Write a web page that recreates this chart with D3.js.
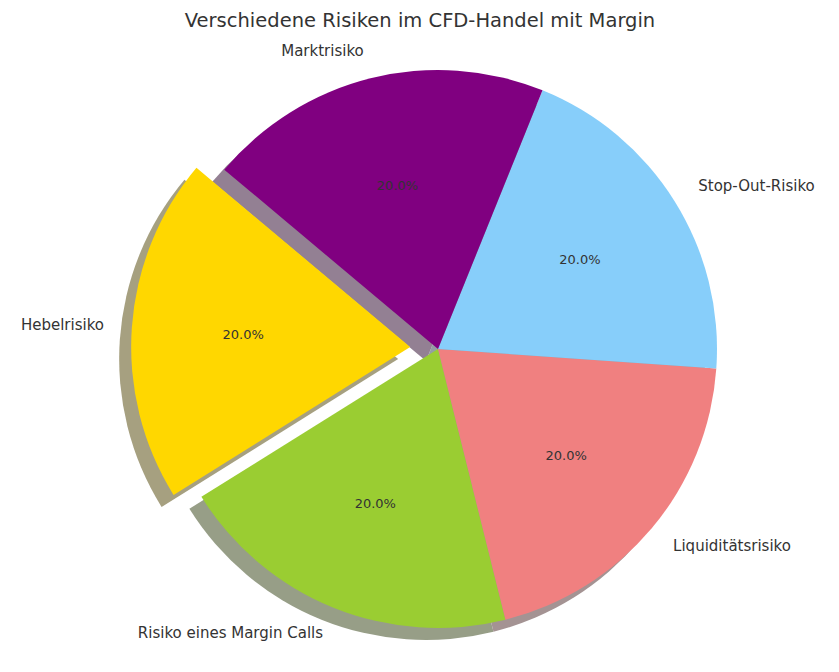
<!DOCTYPE html>
<html><head><meta charset="utf-8">
<script src="https://cdn.jsdelivr.net/npm/d3@7"></script>
<style>body{margin:0;background:#fff;font-family:"DejaVu Sans",sans-serif}</style>
</head><body>
<svg id="c" width="839" height="672"></svg>
<script>
const labels = ["Hebelrisiko", "Risiko eines Margin Calls", "Liquiditätsrisiko", "Stop-Out-Risiko", "Marktrisiko"];
const values = [20, 20, 20, 20, 20];
const colors = ["#ffd700", "#9acd32", "#f08080", "#87cefa", "#800080"];
const explode = [0.1, 0, 0, 0, 0];
const startAngle = 140;

const svg = d3.select("#c");
const cx = 438, cy = 349, r = 279;
const total = d3.sum(values);
const shadowOff = [-12, 12];

// matplotlib-style angles: counterclockwise from +x, in degrees
let a = startAngle;
const slices = values.map((v, i) => {
  const s = { i, a0: a, a1: a + 360 * v / total };
  a = s.a1;
  s.mid = (s.a0 + s.a1) / 2;
  return s;
});
const toD3 = (deg) => (90 - deg) * Math.PI / 180;
const arc = d3.arc().innerRadius(0).outerRadius(r);
const rad = (deg) => deg * Math.PI / 180;

function offset(s) {
  const e = explode[s.i] * r;
  return [Math.cos(rad(s.mid)) * e, -Math.sin(rad(s.mid)) * e];
}
function path(s) {
  return arc({ startAngle: toD3(s.a1), endAngle: toD3(s.a0) });
}
function shade(c) {
  const k = d3.rgb(c);
  return d3.rgb(255 - (255 - k.r * 0.3) * 0.5, 255 - (255 - k.g * 0.3) * 0.5, 255 - (255 - k.b * 0.3) * 0.5);
}

slices.forEach((s) => {
  const [ox, oy] = offset(s);
  svg.append("path").attr("d", path(s))
    .attr("transform", `translate(${cx + ox + shadowOff[0]},${cy + oy + shadowOff[1]})`)
    .attr("fill", shade(colors[s.i]));
});
slices.forEach((s) => {
  const [ox, oy] = offset(s);
  svg.append("path").attr("d", path(s))
    .attr("transform", `translate(${cx + ox},${cy + oy})`)
    .attr("fill", colors[s.i]);
});
slices.forEach((s) => {
  const [ox, oy] = offset(s);
  const c = Math.cos(rad(s.mid)), sn = Math.sin(rad(s.mid));
  svg.append("text")
    .attr("x", cx + ox + c * r * 1.1).attr("y", cy + oy - sn * r * 1.1)
    .attr("text-anchor", c > 0 ? "start" : "end").attr("dominant-baseline", "middle")
    .attr("font-size", 15).attr("fill", "#333").text(labels[s.i]);
  svg.append("text")
    .attr("x", cx + ox + c * r * 0.6).attr("y", cy + oy - sn * r * 0.6)
    .attr("text-anchor", "middle").attr("dominant-baseline", "middle")
    .attr("font-size", 13).attr("fill", "#333")
    .text((100 * values[s.i] / total).toFixed(1) + "%");
});
svg.append("text").attr("x", 420).attr("y", 27).attr("text-anchor", "middle")
  .attr("font-size", 19.5).attr("fill", "#333").text("Verschiedene Risiken im CFD-Handel mit Margin");
</script>
</body></html>
